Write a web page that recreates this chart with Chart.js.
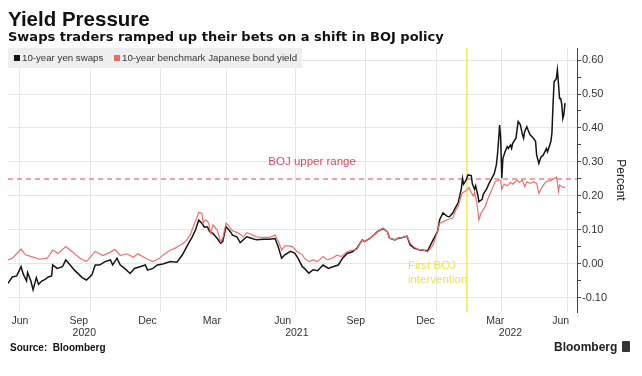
<!DOCTYPE html>
<html>
<head>
<meta charset="utf-8">
<script src="https://cdn.jsdelivr.net/npm/chart.js@4.4.1/dist/chart.umd.min.js"></script>
<style>
  html, body { margin:0; padding:0; background:#fff; }
  body { width:642px; height:376px; position:relative; overflow:hidden; font-family:'Liberation Sans', Arial, sans-serif; color:#111; }
  #chart { position:absolute; left:0; top:0; }
  .titulo { position:absolute; left:8px; top:9px; font-size:20.5px; line-height:20px; font-weight:bold; white-space:nowrap; }
  .sub { position:absolute; left:8px; top:30px; font-family:'DejaVu Sans', sans-serif; font-size:13px; line-height:14px; font-weight:bold; white-space:nowrap; }
  .legenda { position:absolute; left:8px; top:48px; width:294px; height:20px; background:#eeeeee; font-size:9.7px; line-height:20px; color:#333; white-space:nowrap; }
  .legenda span.q { display:inline-block; width:6px; height:6px; margin:0 2px 0 6px; vertical-align:0px; }
  .fonte { position:absolute; left:10px; top:342px; font-size:10px; line-height:12px; font-weight:bold; }
  .marca { position:absolute; left:554px; top:340px; font-size:12px; line-height:14px; font-weight:bold; color:#222; }
  .marca i { display:inline-block; width:8px; height:11px; background:#333; border-radius:1px; margin-left:5px; vertical-align:-1px; }
</style>
</head>
<body>
<canvas id="chart" width="642" height="376"></canvas>
<div class="titulo">Yield Pressure</div>
<div class="sub">Swaps traders ramped up their bets on a shift in BOJ policy</div>
<div class="legenda"><span class="q" style="background:#111"></span>10-year yen swaps <span class="q" style="background:#f06868;margin-left:8px"></span>10-year benchmark Japanese bond yield</div>
<div class="fonte">Source:&nbsp; Bloomberg</div>
<div class="marca">Bloomberg<i></i></div>

<script>
// ---------------- Dados (x = índice de sessão desde meados de maio de 2020) ---------------- //
const swapSessions = [0,4,8,12,14,17,18,21,23,26,28,31,34,37,40,41,45,50,53,57,61,68,72,77,80,84,89,94,96,100,
  103,107,112,116,121,126,128,133,137,142,149,155,160,164,169,172,175,178,180,183,185,188,192,195,197,200,204,206,210,213,
  219,224,228,234,240,245,248,251,254,259,263,266,270,272,276,280,284,289,294,298,303,307,311,316,320,325,327,332,339,344,
  348,350,355,358,362,366,369,373,378,385,390,394,396,399,403,405,408,411,413,416,417,418,420,422,425,426,428,429,431,432,
  435,436,439,441,444,446,448,449,450,451,452,453,454,456,458,459,461,462,463,466,468,470,472,473,474,476,477,479,482,484,
  485,487,489,491,494,495,498,499,500,501,503,504,505,506,507,508,509,510,511];
const swapValues = [-0.057,-0.038,-0.035,-0.008,-0.030,-0.050,-0.025,-0.050,-0.076,-0.040,-0.060,-0.050,-0.045,-0.038,-0.035,-0.003,-0.013,-0.008,0.012,-0.003,-0.018,-0.040,-0.047,-0.032,-0.003,-0.003,0.007,0.012,-0.003,0.017,
  -0.003,-0.013,-0.028,-0.013,-0.008,-0.003,-0.018,-0.013,-0.003,0.000,0.007,0.005,0.027,0.051,0.080,0.100,0.129,0.119,0.109,0.109,0.095,0.090,0.075,0.061,0.066,0.110,0.095,0.085,0.080,0.063,
  0.080,0.075,0.071,0.073,0.073,0.075,0.050,0.017,0.027,0.037,0.032,0.017,-0.008,-0.013,-0.027,-0.017,-0.020,-0.003,-0.013,-0.008,-0.003,0.017,0.031,0.036,0.046,0.071,0.066,0.075,0.095,0.105,
  0.095,0.076,0.071,0.076,0.078,0.082,0.056,0.046,0.041,0.039,0.071,0.095,0.130,0.150,0.140,0.139,0.150,0.169,0.180,0.223,0.252,0.235,0.245,0.262,0.260,0.236,0.220,0.230,0.203,0.183,
  0.190,0.205,0.220,0.235,0.253,0.265,0.291,0.320,0.360,0.409,0.370,0.252,0.310,0.330,0.345,0.340,0.350,0.340,0.355,0.370,0.419,0.410,0.380,0.370,0.390,0.404,0.395,0.380,0.370,0.360,
  0.320,0.296,0.315,0.320,0.340,0.330,0.360,0.385,0.468,0.536,0.545,0.571,0.530,0.487,0.487,0.470,0.428,0.440,0.473];

const jgbSessions = [0,4,12,16,23,29,36,41,46,53,59,66,72,80,87,94,98,103,109,115,119,128,133,139,142,149,153,158,161,164,
  167,170,173,175,178,179,181,183,184,186,188,192,195,197,200,202,205,208,211,216,219,222,228,234,240,245,248,251,254,257,
  261,265,270,272,276,280,284,289,293,297,302,306,311,316,320,325,327,332,339,344,348,350,355,358,362,366,369,372,376,381,
  385,390,394,396,399,403,408,411,413,416,417,419,421,423,425,427,428,430,432,434,436,438,440,444,447,450,452,453,455,458,
  461,463,467,469,472,474,476,479,482,485,487,490,493,495,498,503,504,505,506,508,510,511];
const jgbValues = [0.012,0.017,0.044,0.027,0.020,0.014,0.017,0.041,0.031,0.051,0.036,0.017,0.007,0.037,0.025,0.035,0.043,0.025,0.030,0.020,0.030,0.014,0.007,0.017,0.026,0.041,0.046,0.056,0.061,0.071,
  0.085,0.110,0.134,0.152,0.149,0.120,0.130,0.125,0.120,0.091,0.115,0.100,0.066,0.076,0.120,0.115,0.100,0.095,0.092,0.080,0.092,0.089,0.080,0.078,0.078,0.085,0.066,0.041,0.053,0.053,
  0.051,0.037,0.027,0.017,0.007,0.012,0.007,0.022,0.012,0.017,0.026,0.022,0.036,0.041,0.043,0.071,0.066,0.075,0.095,0.105,0.095,0.076,0.071,0.076,0.078,0.082,0.061,0.051,0.043,0.041,
  0.036,0.056,0.095,0.120,0.124,0.130,0.135,0.160,0.170,0.203,0.210,0.213,0.218,0.225,0.210,0.200,0.210,0.183,0.129,0.150,0.160,0.170,0.190,0.220,0.242,0.247,0.247,0.220,0.235,0.230,
  0.240,0.235,0.247,0.240,0.247,0.227,0.242,0.237,0.242,0.237,0.208,0.227,0.240,0.244,0.245,0.256,0.240,0.213,0.232,0.227,0.225,0.227];

// eixo x: linhas de grelha, meses e anos
const gridSessions  = [11, 76, 140, 200, 264, 328, 393, 453, 513];
const monthSessions = [11, 65, 128, 187, 252, 319, 383, 447, 507];
const monthLabels   = ['Jun','Sep','Dec','Mar','Jun','Sep','Dec','Mar','Jun'];
const yearSessions  = [70, 265, 461];
const yearLabels    = ['2020','2021','2022'];

// eixo y
const yTicks = [-0.10, 0.00, 0.10, 0.20, 0.30, 0.40, 0.50, 0.60];

const bojUpper = 0.25;
const firstIntervention = 421;

// ---------------- Defaults ---------------- //
Chart.defaults.font.family = "'Liberation Sans', Arial, sans-serif";
Chart.defaults.font.size = 10.5;
Chart.defaults.color = '#333';

const pares = (xs, ys) => xs.map((x, i) => ({ x, y: ys[i] }));
const ehMaior = v => Math.abs(v * 10 - Math.round(v * 10)) < 1e-6;

// anotações: limite BOJ, linha amarela, textos
const anotacoes = {
  id: 'anotacoes',
  beforeDatasetsDraw(chart) {
    const { ctx, chartArea: a, scales: { x, y } } = chart;
    const xi = x.getPixelForValue(firstIntervention);
    const yb = y.getPixelForValue(bojUpper);
    ctx.save();
    ctx.strokeStyle = '#f5ea55';
    ctx.lineWidth = 1.5;
    ctx.beginPath(); ctx.moveTo(xi, a.top); ctx.lineTo(xi, a.bottom); ctx.stroke();
    ctx.strokeStyle = '#e8455a';
    ctx.lineWidth = 1.2;
    ctx.setLineDash([5, 4]);
    ctx.beginPath(); ctx.moveTo(a.left, yb); ctx.lineTo(a.right, yb); ctx.stroke();
    ctx.restore();
  },
  afterDatasetsDraw(chart) {
    const { ctx, scales: { x, y } } = chart;
    ctx.save();
    ctx.font = "11.5px 'Liberation Sans', Arial, sans-serif";
    ctx.textBaseline = 'middle';
    ctx.textAlign = 'center';
    ctx.fillStyle = '#e8455a';
    ctx.fillText('BOJ upper range', x.getPixelForValue(279), y.getPixelForValue(0.30));
    ctx.textAlign = 'left';
    ctx.fillStyle = '#efe24a';
    const xi = x.getPixelForValue(firstIntervention) - 59;
    const y0 = y.getPixelForValue(0);
    ctx.fillText('First BOJ', xi, y0 + 2);
    ctx.fillText('intervention', xi, y0 + 16);
    ctx.restore();
  }
};

new Chart(document.getElementById('chart'), {
  type: 'line',
  data: {
    datasets: [
      { label: '10-year benchmark Japanese bond yield', data: pares(jgbSessions, jgbValues),
        borderColor: '#f07070', borderWidth: 1.2, pointRadius: 0, order: 0 },
      { label: '10-year yen swaps', data: pares(swapSessions, swapValues),
        borderColor: '#151515', borderWidth: 1.5, pointRadius: 0, order: 1 }
    ]
  },
  options: {
    responsive: false,
    animation: false,
    layout: { padding: { top: 48, left: 8, right: 14, bottom: 32 } },
    plugins: { legend: { display: false }, tooltip: { enabled: false } },
    scales: {
      x: {
        type: 'linear', min: 0, max: 522, weight: 0,
        afterBuildTicks: s => { s.ticks = gridSessions.map(v => ({ value: v })); },
        afterFit: s => { s.height = 0; },
        ticks: { display: false },
        grid: { color: '#e6e6e6', drawTicks: false },
        border: { display: false }
      },
      xm: {
        type: 'linear', position: 'bottom', min: 0, max: 522, weight: 1,
        afterBuildTicks: s => { s.ticks = monthSessions.map(v => ({ value: v })); },
        afterFit: s => { s.height = 16; },
        ticks: { autoSkip: false, maxRotation: 0, padding: 3, callback: (v, i) => monthLabels[i] },
        grid: { display: false, drawTicks: false },
        border: { display: false }
      },
      xa: {
        type: 'linear', position: 'bottom', min: 0, max: 522, weight: 2,
        afterBuildTicks: s => { s.ticks = yearSessions.map(v => ({ value: v })); },
        afterFit: s => { s.height = 16; },
        ticks: { autoSkip: false, maxRotation: 0, padding: -1, callback: (v, i) => yearLabels[i] },
        grid: { display: false, drawTicks: false },
        border: { display: false }
      },
      y: {
        type: 'linear', position: 'right', min: -0.1412, max: 0.6353,
        afterBuildTicks: s => {
          const t = [];
          yTicks.forEach((v, i) => {
            t.push({ value: v });
            if (i < yTicks.length - 1) t.push({ value: +(v + 0.05).toFixed(2) });
          });
          s.ticks = t;
        },
        afterFit: s => { s.width = 51; },
        ticks: { padding: 1, callback: v => (ehMaior(v) ? v.toFixed(2) : ''), font: { size: 11 } },
        grid: {
          tickLength: 4,
          tickColor: '#444',
          color: c => (c.tick && ehMaior(c.tick.value) ? '#e6e6e6' : 'rgba(0,0,0,0)')
        },
        border: { color: '#444' },
        title: { display: true, text: 'Percent', font: { size: 12 }, color: '#222', padding: 0 }
      }
    }
  },
  plugins: [anotacoes]
});
</script>
</body>
</html>
